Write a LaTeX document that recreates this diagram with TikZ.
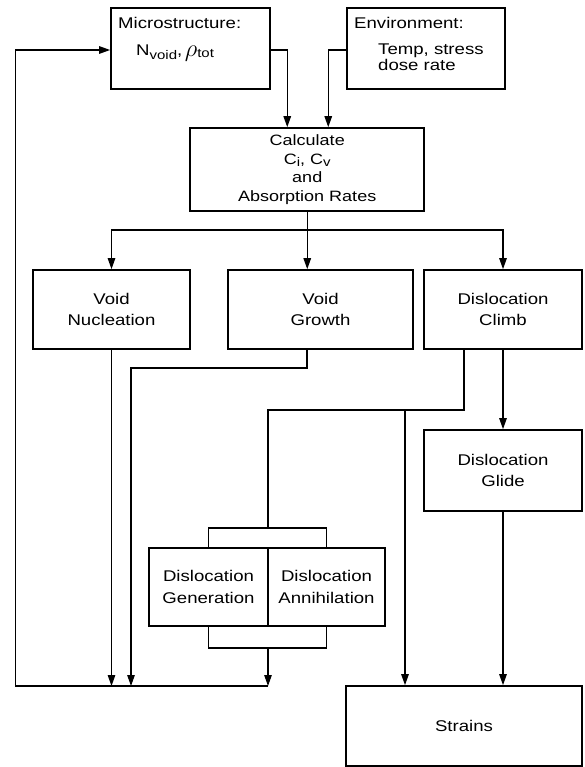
\documentclass[tikz,border=0pt]{standalone}
\usepackage{fontspec}
\usepackage{graphicx}
\setmainfont{Liberation Sans}[FakeStretch=1.2]
\usetikzlibrary{arrows.meta,calc}
\newcommand\lowsub[2][-3.5pt]{\raisebox{#1}{\fontsize{12.5}{12.5}\selectfont #2}}
\begin{document}
\begin{tikzpicture}[x=1pt,y=-1pt,
  box/.style={draw,line width=1.7pt,rectangle,inner sep=0pt,align=center,
    font=\fontsize{15.5}{21.5}\selectfont},
  lbl/.style={inner sep=0pt,font=\fontsize{15.5}{21.5}\selectfont},
  conn/.style={line width=1.2pt},
  arr/.style={conn,-{Triangle[length=11pt,width=7.5pt]}}]
\useasboundingbox (0,0) rectangle (584,767);

% boxes
\node[box,minimum width=159pt,minimum height=81pt] (micro) at (190.5,48.8) {};
\node[box,minimum width=158pt,minimum height=81pt] (env) at (426,48.8) {};
\node[box,minimum width=234pt,minimum height=83pt,
  font=\fontsize{15}{18.7}\selectfont] (calc) at (307.25,169.5)
  {Calculate\\C\lowsub[-2.5pt]{i}, C\lowsub[-2.5pt]{v}\\and\\Absorption Rates};
\node[box,minimum width=157pt,minimum height=79pt] (vn) at (111.5,309.5) {Void\\Nucleation};
\node[box,minimum width=185pt,minimum height=79pt] (vg) at (320.5,309.5) {Void\\Growth};
\node[box,minimum width=158pt,minimum height=79pt] (climb) at (503,309.5) {Dislocation\\Climb};
\node[box,minimum width=158pt,minimum height=81pt] (glide) at (503,470.5) {Dislocation\\Glide};
\node[box,minimum width=119pt,minimum height=78pt] (gen) at (208.5,587) {Dislocation\\Generation};
\node[box,minimum width=117pt,minimum height=78pt] (ann) at (326.5,587) {Dislocation\\Annihilation};
\node[box,minimum width=236pt,minimum height=80pt] (strains) at (464,726) {Strains};

% texts of the input boxes
\node[lbl,anchor=base west] (microT) at (118,29) {Microstructure:};
\node[lbl,anchor=base west] (microV) at (136,56)
  {N\lowsub{void},\,\raisebox{-1pt}{\scalebox{1.7}{$\rho$}}\lowsub[-2pt]{tot}};
\node[lbl,anchor=base west] (envT) at (354,29) {Environment:};
\node[lbl,anchor=base west] (envV) at (378,55) {Temp, stress};
\node[lbl,anchor=base west] (envW) at (378,71) {dose rate};

% helper coordinates
\coordinate (split) at (307.25,230);
\coordinate (cCorner) at (15.6,686);
\coordinate (cEnd) at (268,686);
\coordinate (vgTurn) at (307,368);
\coordinate (vgDown) at (131,368);
\coordinate (clTurn) at (464,410);
\coordinate (clLeft) at (268,410);
\coordinate (clBranch) at (405,410);
\coordinate (bTop) at (268,528);
\coordinate (bBot) at (268,648);

% inputs to calculate
\draw[arr] (micro.east |- 0,50) -| ($(calc.north)+(-20,0)$);
\draw[arr] (env.west |- 0,50) -| ($(calc.north)+(21,0)$);

% distribution
\draw[conn] (calc.south) -- (split);
\draw[arr] (split) -| (vn.north);
\draw[arr] (split) -- (split |- vg.north);
\draw[arr] (split) -| (climb.north);

% void nucleation and growth to collector
\draw[arr] (vn.south) -- (vn.south |- cCorner);
\draw[arr] (vgTurn |- vg.south) -- (vgTurn) -- (vgDown) -- (vgDown |- cCorner);

% dislocation climb
\draw[conn] (clTurn |- climb.south) -- (clTurn) -- (clLeft) -- (bTop);
\draw[arr] (clBranch) -- (clBranch |- strains.north);
\draw[arr] (climb.south) -- (glide.north);
\draw[arr] (glide.south) -- (strains.north -| glide.south);

% brackets around generation/annihilation
\draw[conn] (gen.north) -- (gen.north |- bTop) -- (ann.north |- bTop) -- (ann.north);
\draw[conn] (gen.south) -- (gen.south |- bBot) -- (ann.south |- bBot) -- (ann.south);
\draw[arr] (bBot) -- (cEnd);

% feedback loop
\draw[arr] (cEnd) -- (cCorner) |- (micro.west |- 0,50);
\end{tikzpicture}
\end{document}
